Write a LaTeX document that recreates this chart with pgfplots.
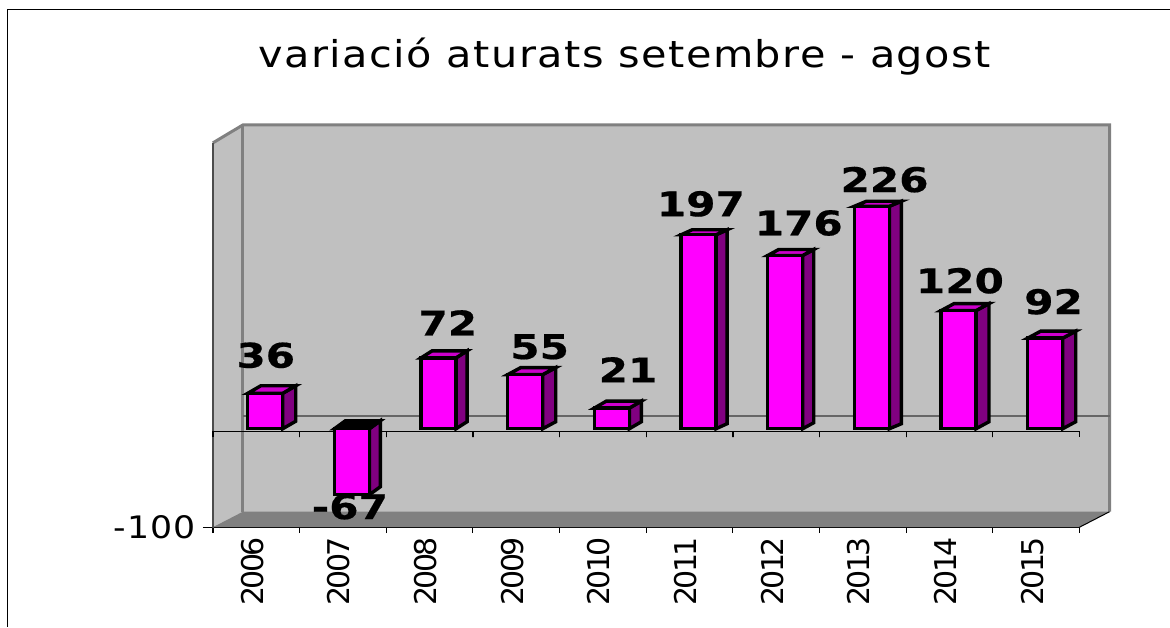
\documentclass[border=0pt]{standalone}
\usepackage{fontspec}
\usepackage{pgfplots}
\pgfplotsset{compat=1.18}
\setmainfont{DejaVu Sans}
\newfontfamily\titlefont[FakeStretch=1.12,LetterSpace=4]{DejaVu Sans}
\newfontfamily\labelfont[FakeStretch=1.24,FakeBold=0.5]{DejaVu Sans Bold}
\newfontfamily\tickfont[LetterSpace=-9]{DejaVu Sans}
\definecolor{wall}{HTML}{C0C0C0}
\definecolor{wallline}{HTML}{808080}
\definecolor{front}{HTML}{FF00FF}
\definecolor{topface}{HTML}{CC00CC}
\definecolor{sideface}{HTML}{800080}

% one pixel is 1/86.7 of a year in x and 1/0.985 of a unit in y
% args: year, value, depth dx (px), depth dy (px)
\newcommand{\barfaces}[4]{%
  \pgfmathsetmacro{\xr}{#1+26.5/86.7}%
  \pgfmathsetmacro{\xl}{#1-8.5/86.7}%
  \pgfmathsetmacro{\xrb}{\xr+#3/86.7}%
  \pgfmathsetmacro{\xlb}{\xl+#3/86.7}%
  \pgfmathsetmacro{\ytop}{max(#2,0)}%
  \pgfmathsetmacro{\ybot}{min(#2,0)}%
  \pgfmathsetmacro{\ytopb}{\ytop+#4/0.985}%
  \pgfmathsetmacro{\ybotb}{\ybot+#4/0.985}%
  \edef\temp{\noexpand\addplot[forget plot, draw=black, line width=1.7pt, fill=sideface]
    coordinates {(\xr,\ybot) (\xrb,\ybotb) (\xrb,\ytopb) (\xr,\ytop)} --cycle;
    \noexpand\addplot[forget plot, draw=black, line width=1.7pt, fill=\ifnum#2<0 black\else topface\fi]
    coordinates {(\xl,\ytop) (\xlb,\ytopb) (\xrb,\ytopb) (\xr,\ytop)} --cycle;}%
  \temp
}

\begin{document}
\begin{tikzpicture}
\begin{axis}[
  scale only axis,
  width=433.5pt, height=192.25pt,
  xmin=2005.5, xmax=2015.5,
  ymin=-100, ymax=290.4,
  clip=false,
  axis x line*=bottom, axis y line*=left,
  axis line style={black, line width=0.6pt, -},
  xtick={2006,...,2015},
  minor xtick={2005.5,2006.5,...,2015.5},
  major x tick style={draw=none},
  minor x tick style={black, line width=0.6pt},
  minor tick length=3pt,
  ytick={-100},
  major y tick style={black, line width=0.6pt},
  major tick length=5pt,
  tick align=outside,
  /pgf/number format/1000 sep={},
  /pgf/number format/assume math mode=true,
  xticklabel style={rotate=90, anchor=east, xshift=3.5pt, yshift=2pt, font=\tickfont\fontsize{15pt}{15pt}\selectfont},
  yticklabel style={font=\titlefont\fontsize{15.5pt}{15.5pt}\selectfont},
]
% frame and walls
\draw[black, line width=0.5pt] (axis cs:2003.135,-201) -- (axis cs:2003.135,425.8) -- (axis cs:2016.538,425.8);
\path (axis cs:2003.043,-201) rectangle (axis cs:2016.538,435.5);
\fill[wall] (axis cs:2005.846,308.6) rectangle (axis cs:2015.846,-84.3);
\draw[wall, fill=wall] (axis cs:2005.5,290.4) -- (axis cs:2005.846,308.6) -- (axis cs:2005.846,-84.3) -- (axis cs:2005.5,-100) -- cycle;
\fill[wallline] (axis cs:2005.5,-100) -- (axis cs:2005.846,-84.3) -- (axis cs:2015.846,-84.3) -- (axis cs:2015.5,-100) -- cycle;
\draw[wallline, line width=1.5pt] (axis cs:2005.5,290.4) -- (axis cs:2005.846,308.6) -- (axis cs:2015.846,308.6) -- (axis cs:2015.846,-84.3);
\draw[wallline, line width=1.5pt] (axis cs:2005.846,308.6) -- (axis cs:2005.846,-84.3);
\draw[black, line width=0.5pt] (axis cs:2015.5,-100) -- (axis cs:2015.846,-84.3);
\draw[black!70, line width=0.6pt] (axis cs:2005.5,290.4) -- (axis cs:2005.5,-100);
% back zero line
\addplot[forget plot, draw=black!60, line width=0.8pt] coordinates {(2005.846,13.2) (2015.846,13.2)};
% front zero line with its ticks
\addplot[forget plot, draw=black, line width=0.6pt] coordinates {
  (2005.5,-8.6) (2005.5,-2.5) (2006.5,-2.5) (2006.5,-8.6) (2006.5,-2.5) (2007.5,-2.5) (2007.5,-8.6)
  (2007.5,-2.5) (2008.5,-2.5) (2008.5,-8.6) (2008.5,-2.5) (2009.5,-2.5) (2009.5,-8.6) (2009.5,-2.5)
  (2010.5,-2.5) (2010.5,-8.6) (2010.5,-2.5) (2011.5,-2.5) (2011.5,-8.6) (2011.5,-2.5) (2012.5,-2.5)
  (2012.5,-8.6) (2012.5,-2.5) (2013.5,-2.5) (2013.5,-8.6) (2013.5,-2.5) (2014.5,-2.5) (2014.5,-8.6)
  (2014.5,-2.5) (2015.5,-2.5) (2015.5,-8.6)};
% bars
\barfaces{2006}{36}{13}{7.5}
\barfaces{2007}{-67}{11}{8}
\barfaces{2008}{72}{11}{7}
\barfaces{2009}{55}{13}{7}
\barfaces{2010}{21}{12}{7}
\barfaces{2011}{197}{11}{5}
\barfaces{2012}{176}{11}{6}
\barfaces{2013}{226}{12}{5}
\barfaces{2014}{120}{13}{7}
\barfaces{2015}{92}{13}{7}
\addplot[forget plot, ybar, bar width=17.5pt, bar shift=4.5pt, fill=front, draw=black, line width=1.7pt] coordinates {
  (2006,36) (2007,-67) (2008,72) (2009,55) (2010,21) (2011,197) (2012,176) (2013,226) (2014,120) (2015,92)};
% data labels
\addplot[forget plot, draw=none, mark=none, point meta=explicit symbolic,
  nodes near coords, every node near coord/.style={anchor=center, inner sep=0pt, black,
    font=\labelfont\fontsize{17pt}{17pt}\selectfont}] coordinates {
  (2006.11,74.6) [36] (2007.08,-79.2) [-67] (2008.21,107.6) [72] (2009.27,83.2) [55] (2010.29,59.9)
  [21] (2011.13,228.4) [197] (2012.26,209) [176] (2013.25,253) [226] (2014.12,150.3) [120] (2015.2,129)
  [92]};
\node[anchor=center, font=\titlefont\fontsize{18.5pt}{18.5pt}\selectfont] at (axis cs:2010.25,378) {variació aturats setembre - agost};
\end{axis}
\end{tikzpicture}
\end{document}
